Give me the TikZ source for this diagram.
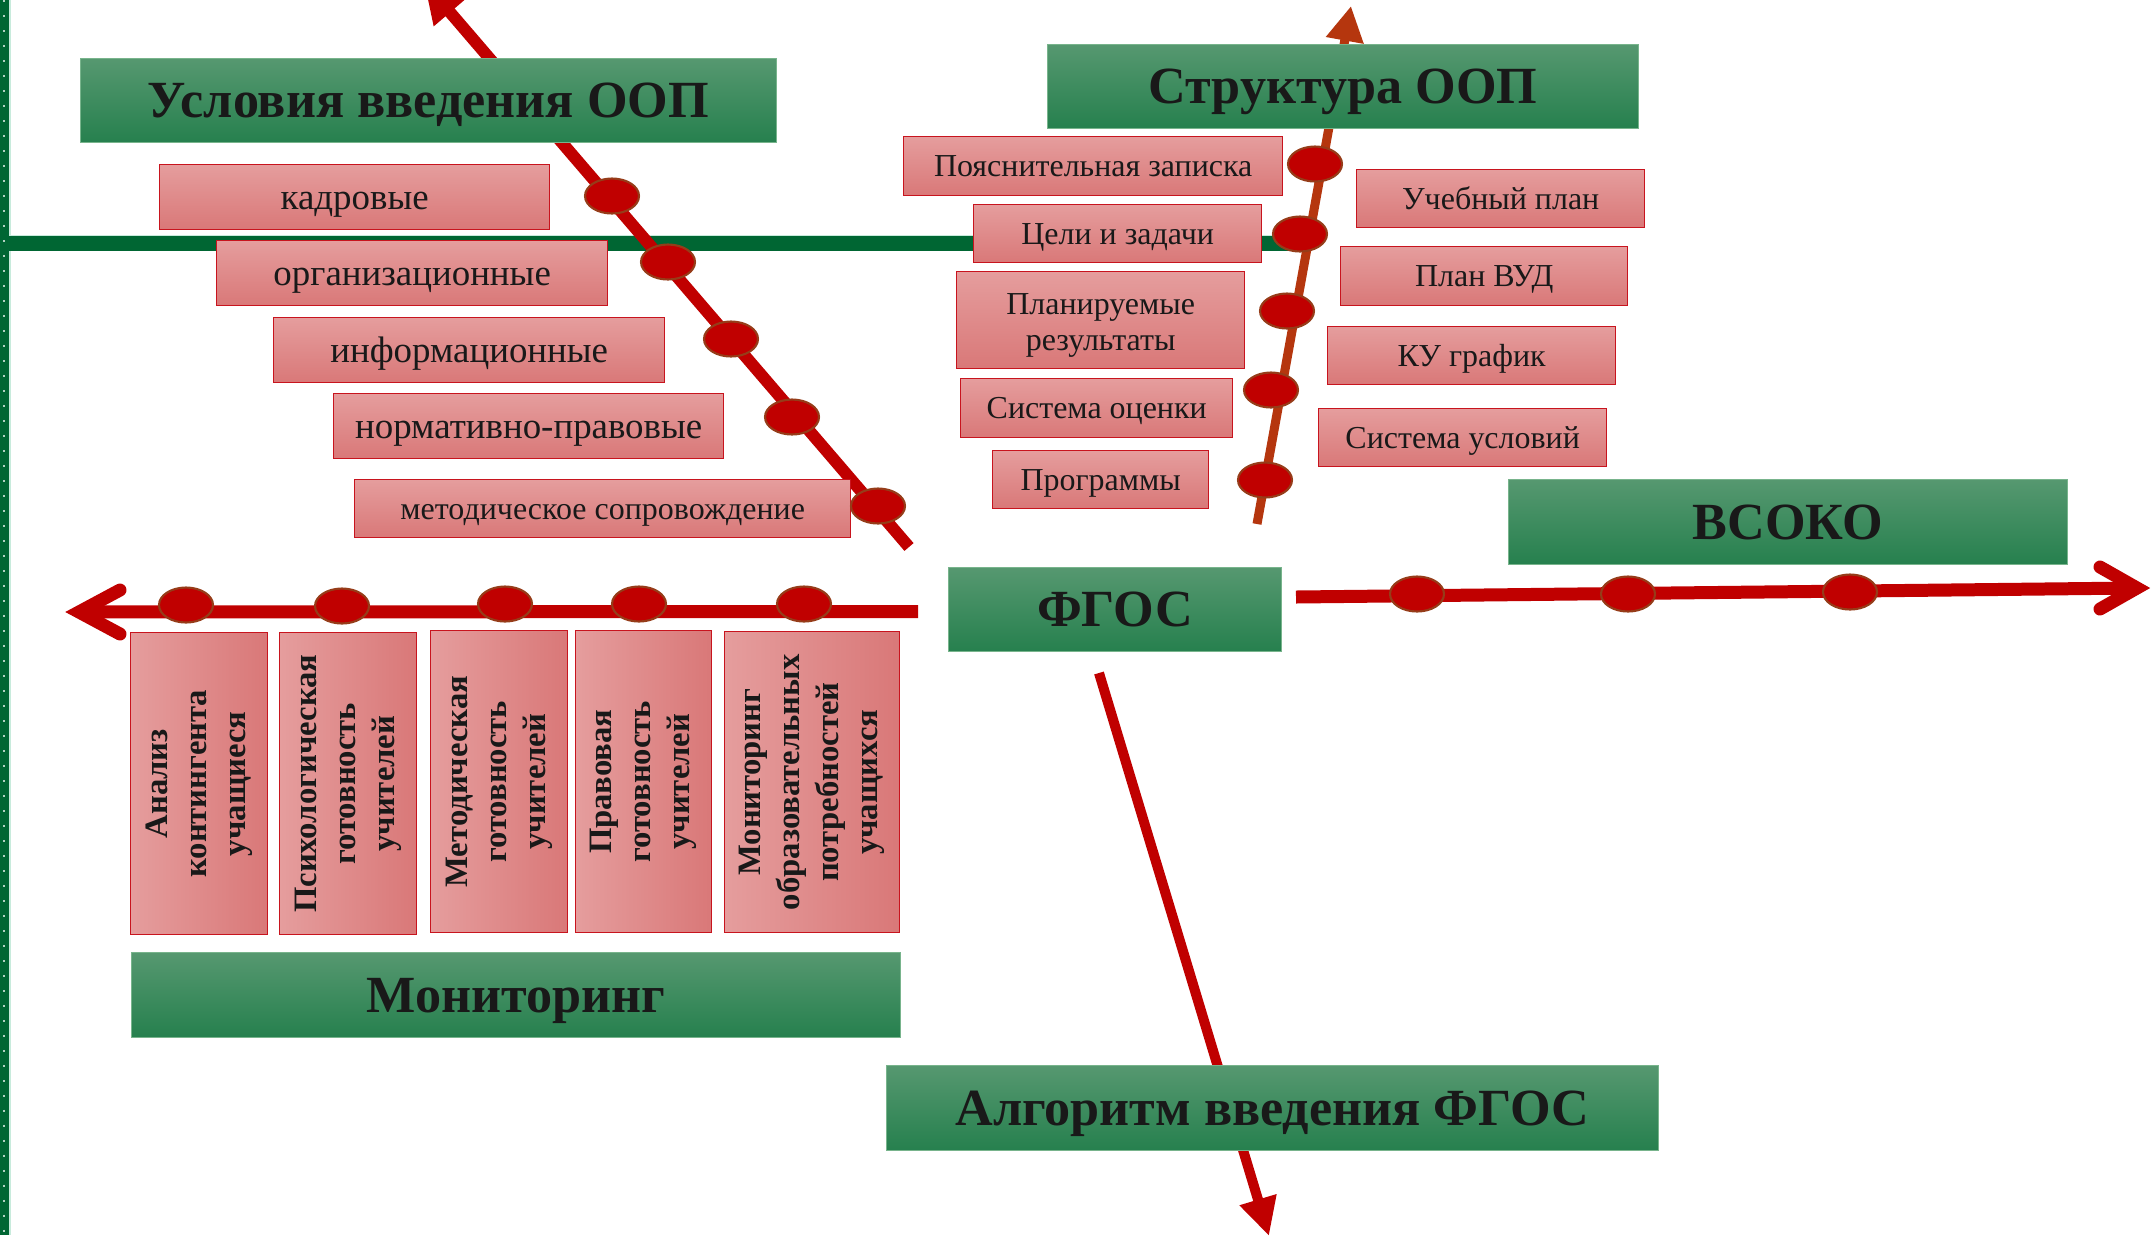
\documentclass[tikz,border=0pt]{standalone}
\usepackage{fontspec}
\setmainfont{Liberation Serif}
\usetikzlibrary{arrows.meta,shapes.geometric}
\definecolor{spred}{RGB}{192,0,0}
\definecolor{spbrown}{RGB}{181,54,14}
\definecolor{dotedge}{RGB}{150,60,25}
\definecolor{gtop}{RGB}{86,152,112}
\definecolor{gbot}{RGB}{38,128,78}
\definecolor{gedge}{RGB}{120,180,140}
\definecolor{ptop}{RGB}{229,157,157}
\definecolor{pbot}{RGB}{217,120,120}
\definecolor{pedge}{RGB}{200,20,30}
\definecolor{dkgreen}{RGB}{0,102,51}
\definecolor{mint}{RGB}{200,235,220}
\definecolor{txt}{RGB}{25,25,25}
\tikzset{
  sz/.style 2 args={minimum width=#1*0.02cm, minimum height=#2*0.02cm},
  hdr/.style={anchor=north west, draw=gedge, line width=0.5pt, top color=gtop, bottom color=gbot,
    text=txt, inner sep=0pt, text height=26.4pt, text depth=6.5pt, font=\bfseries\fontsize{29.7}{34}\selectfont},
  pboxbase/.style={anchor=north west, draw=pedge, line width=0.8pt, top color=ptop, bottom color=pbot,
    text=txt, inner sep=0pt, align=center},
  pbox/.style={pboxbase, text height=18.7pt, text depth=4.6pt, font=\fontsize{21}{25}\selectfont},
  sbox/.style={pboxbase, text height=16.2pt, text depth=4pt, font=\fontsize{18.2}{20.5}\selectfont},
  sbox2/.style={pboxbase, font=\fontsize{18.2}{20.5}\selectfont},
  vbox/.style={anchor=north west, draw=pedge, line width=0.8pt, left color=ptop, right color=pbot, inner sep=0pt},
  vtext/.style={rotate=90, text=txt, align=center, inner sep=0pt, font=\bfseries\fontsize{18.6}{22.2}\selectfont},
  dot/.style={ellipse, fill=spred, draw=dotedge, line width=1.2pt, minimum width=1.08cm, minimum height=0.7cm, inner sep=0pt},
  redspine/.style={draw=spred, line width=0.26cm},
  chev/.style={draw=spred, line width=0.26cm, line cap=round, line join=miter},
}
\begin{document}
\begin{tikzpicture}[x=0.02cm,y=-0.02cm]
\useasboundingbox (0,0) rectangle (2151,1235);
\fill[white] (0,0) rectangle (2151,1235);

% left vertical green strip and horizontal green line
\fill[dkgreen] (0,0) rectangle (9,1235);
\draw[mint, line width=0.6pt] (10,0) -- (10,1235);
\draw[white!70!dkgreen, line width=0.8pt, dash pattern=on 0.04cm off 0.26cm] (4,0) -- (4,1235);
\coordinate (gl0) at (9,243.5);
\coordinate (gl1) at (1292,243.5);
\draw[dkgreen, line width=0.3cm] (gl0) -- (gl1);
\draw[mint, line width=0.6pt] (9,235.5) -- (1292,235.5);

% spines
\coordinate (lend) at (909,547);
\coordinate (ltip) at (424,-18);
\draw[spred, line width=0.24cm, -{Triangle[length=0.8cm,width=0.8cm]}] (lend) -- (ltip);

\coordinate (mend) at (1257,524);
\coordinate (mtip) at (1351,6);
\draw[spbrown, line width=0.18cm, -{Triangle[length=0.7cm,width=0.72cm]}] (mend) -- (mtip);

\coordinate (bstart) at (1099,673);
\coordinate (btip) at (1269,1236);
\draw[spred, line width=0.2cm, -{Triangle[length=0.76cm,width=0.72cm]}] (bstart) -- (btip);

\coordinate (lhs) at (918,611.5);
\coordinate (lhv) at (79,612);
\coordinate (lha) at (120,590);
\coordinate (lhb) at (120,634);
\draw[redspine] (lhs) -- (lhv);
\draw[chev] (lha) -- (lhv) -- (lhb);

\coordinate (rhs) at (1296,597);
\coordinate (rhv) at (2137,588);
\coordinate (rha) at (2100,567);
\coordinate (rhb) at (2100,609);
\draw[redspine] (rhs) -- (rhv);
\draw[chev] (rha) -- (rhv) -- (rhb);

% green headers
\node[hdr, sz={696}{84}] (h1) at (80,58) {Условия введения ООП};
\node[hdr, sz={591}{84}] (h2) at (1047,44) {Структура ООП};
\node[hdr, sz={559}{85}] (h3) at (1508,479) {ВСОКО};
\node[hdr, sz={333}{84}] (h4) at (948,567) {ФГОС};
\node[hdr, sz={769}{85}] (h5) at (131,952) {Мониторинг};
\node[hdr, sz={772}{85}] (h6) at (886,1065) {Алгоритм введения ФГОС};

% conditions boxes
\node[pbox, sz={390}{65}] (p1) at (159,164) {кадровые};
\node[pbox, sz={391}{65}] (p2) at (216,240) {организационные};
\node[pbox, sz={391}{65}] (p3) at (273,317) {информационные};
\node[pbox, sz={390}{65}] (p4) at (333,393) {нормативно-правовые};
\node[sbox, sz={496}{58}] (p5) at (354,479) {методическое сопровождение};

% structure boxes
\node[sbox, sz={379}{59}] (s1) at (903,136) {Пояснительная записка};
\node[sbox, sz={288}{58}] (s2) at (973,204) {Цели и задачи};
\node[sbox2, sz={288}{97}] (s3) at (956,271) {};
\node[font=\fontsize{18.2}{20.5}\selectfont, align=center, text=txt, inner sep=0pt, yshift=-0.1cm] (s3t) at (s3.center) {Планируемые\\результаты};
\node[sbox, sz={272}{59}] (s4) at (960,378) {Система оценки};
\node[sbox, sz={216}{58}] (s5) at (992,450) {Программы};
\node[sbox, sz={288}{58}] (r1) at (1356,169) {Учебный план};
\node[sbox, sz={287}{59}] (r2) at (1340,246) {План ВУД};
\node[sbox, sz={288}{58}] (r3) at (1327,326) {КУ график};
\node[sbox, sz={288}{58}] (r4) at (1318,408) {Система условий};

% monitoring boxes
\node[vbox, sz={137}{302}] (v1) at (130,632) {};
\node[vbox, sz={137}{302}] (v2) at (279,632) {};
\node[vbox, sz={137}{302}] (v3) at (430,630) {};
\node[vbox, sz={136}{302}] (v4) at (575,630) {};
\node[vbox, sz={175}{301}] (v5) at (724,631) {};
\node[vtext] (v1t) at (v1.center) {Анализ\\контингента\\учащиеся};
\node[vtext] (v2t) at (v2.center) {Психологическая\\готовность\\учителей};
\node[vtext] (v3t) at (v3.center) {Методическая\\готовность\\учителей};
\node[vtext] (v4t) at (v4.center) {Правовая\\готовность\\учителей};
\node[vtext] (v5t) at (v5.center) {Мониторинг\\образовательных\\потребностей\\учащихся};

% dots
\node[dot] (a1) at (612,196) {};
\node[dot] (a2) at (668,262) {};
\node[dot] (a3) at (731,339) {};
\node[dot] (a4) at (792,417) {};
\node[dot] (a5) at (878,506) {};
\node[dot] (m1) at (1315,164) {};
\node[dot] (m2) at (1300,234) {};
\node[dot] (m3) at (1287,311) {};
\node[dot] (m4) at (1271,390) {};
\node[dot] (m5) at (1265,480) {};
\node[dot] (l1) at (186,605) {};
\node[dot] (l2) at (342,606) {};
\node[dot] (l3) at (505,604) {};
\node[dot] (l4) at (639,604) {};
\node[dot] (l5) at (804,604) {};
\node[dot] (q1) at (1417,594) {};
\node[dot] (q2) at (1628,594) {};
\node[dot] (q3) at (1850,592) {};
\end{tikzpicture}
\end{document}
